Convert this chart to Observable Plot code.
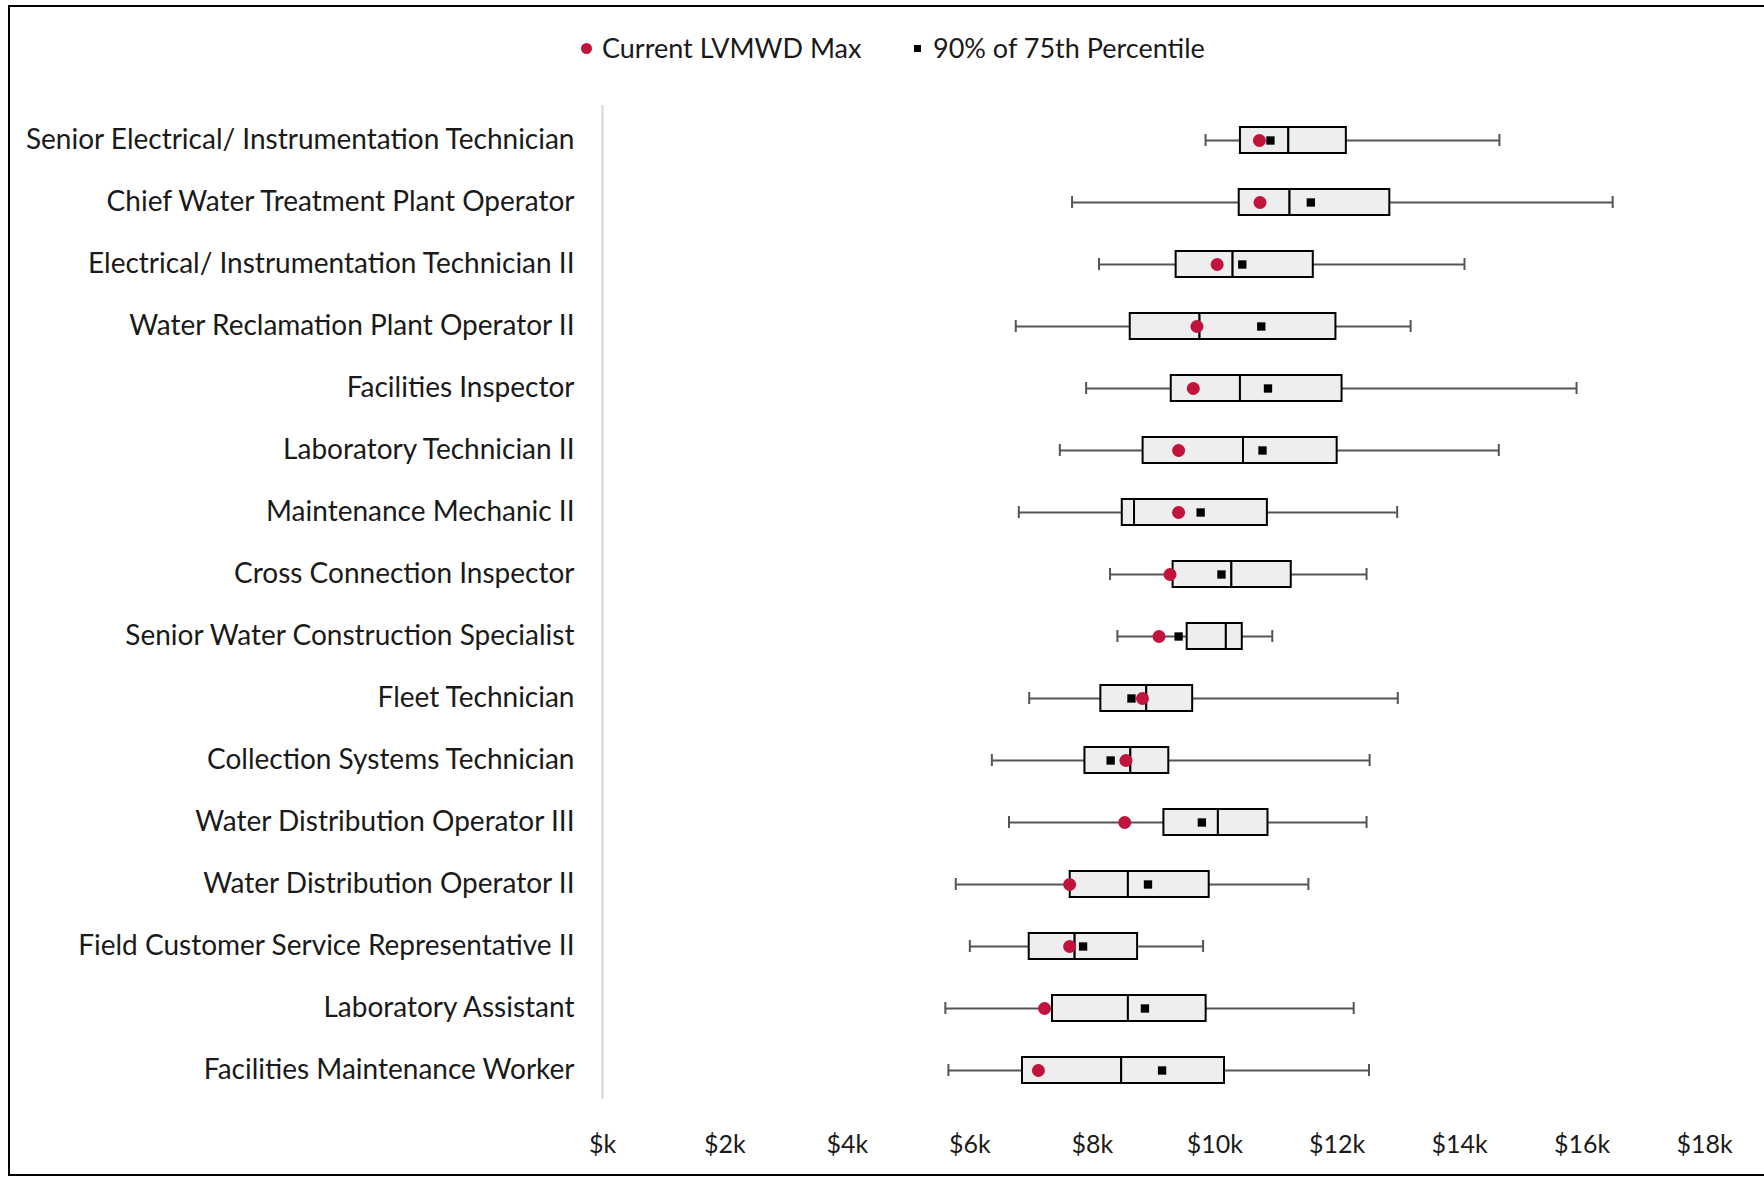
<!DOCTYPE html>
<html>
<head>
<meta charset="utf-8">
<script src="https://cdn.jsdelivr.net/npm/d3@7"></script>
<script src="https://cdn.jsdelivr.net/npm/@observablehq/plot@0.6"></script>
<style>
  html, body { margin: 0; padding: 0; background: #fff; }
  body { width: 1764px; height: 1180px; position: relative; overflow: hidden; font-family: Lato, "Open Sans", sans-serif; }
  #frame { position: absolute; left: 8px; top: 5px; width: 1770px; height: 1171px; border-left: 2px solid #000; border-top: 2px solid #000; border-bottom: 2px solid #000; box-sizing: border-box; }
  #legend { position: absolute; top: 0; left: 0; width: 1764px; height: 90px; }
  .li { position: absolute; top: 32px; font-size: 27px; color: #1a1a1a; line-height: 32px; white-space: nowrap; }
  .dotc { position: absolute; width: 11px; height: 11px; border-radius: 50%; background: #c0143c; }
  .sq { position: absolute; width: 7px; height: 7px; background: #000; }
  #chart { position: absolute; top: 90px; left: 0; }
</style>
</head>
<body>
<div id="frame"></div>
<div id="legend">
  <div class="dotc" style="left:581px; top:43px;"></div>
  <div class="li" style="left:602px;">Current LVMWD Max</div>
  <div class="sq" style="left:914px; top:45px;"></div>
  <div class="li" style="left:933px;">90% of 75th Percentile</div>
</div>
<div id="chart"></div>
<script>
const positions = [
  "Senior Electrical/ Instrumentation Technician",
  "Chief Water Treatment Plant Operator",
  "Electrical/ Instrumentation Technician II",
  "Water Reclamation Plant Operator II",
  "Facilities Inspector",
  "Laboratory Technician II",
  "Maintenance Mechanic II",
  "Cross Connection Inspector",
  "Senior Water Construction Specialist",
  "Fleet Technician",
  "Collection Systems Technician",
  "Water Distribution Operator III",
  "Water Distribution Operator II",
  "Field Customer Service Representative II",
  "Laboratory Assistant",
  "Facilities Maintenance Worker"
];
const minValues    = [9850, 7670, 8110, 6750, 7900, 7470, 6800, 8290, 8410, 6970, 6360, 6640, 5770, 6000, 5600, 5650];
const q1Values     = [10420, 10400, 9370, 8620, 9290, 8830, 8490, 9320, 9550, 8140, 7880, 9170, 7640, 6970, 7350, 6860];
const medianValues = [11210, 11230, 10300, 9760, 10420, 10470, 8690, 10280, 10190, 8890, 8630, 10060, 8590, 7720, 8590, 8480];
const q3Values     = [12150, 12860, 11610, 11980, 12080, 12000, 10860, 11250, 10450, 9640, 9250, 10870, 9910, 8740, 9860, 10160];
const maxValues    = [14650, 16500, 14080, 13200, 15910, 14640, 12980, 12480, 10940, 12990, 12530, 12480, 11530, 9810, 12270, 12520];
const lvmwdMax     = [10730, 10740, 10040, 9710, 9650, 9410, 9410, 9270, 9090, 8820, 8550, 8530, 7630, 7630, 7220, 7120];
const pct90of75    = [10910, 11570, 10450, 10760, 10870, 10780, 9770, 10110, 9410, 8640, 8300, 9790, 8910, 7850, 8860, 9140];
const xTicks = [0, 2000, 4000, 6000, 8000, 10000, 12000, 14000, 16000, 18000];
const xTickLabels = ["$k", "$2k", "$4k", "$6k", "$8k", "$10k", "$12k", "$14k", "$16k", "$18k"];

const rows = positions.map((name, i) => ({
  name, min: minValues[i], q1: q1Values[i], median: medianValues[i], q3: q3Values[i],
  max: maxValues[i], lvmwd: lvmwdMax[i], pct: pct90of75[i]
}));

const chart = Plot.plot({
  width: 1764,
  height: 1090,
  marginLeft: 602,
  marginRight: 60,
  marginTop: 15,
  marginBottom: 75,
  style: { fontFamily: "Lato, 'Open Sans', sans-serif", fontSize: "28px", color: "#1a1a1a", background: "transparent" },
  x: { domain: [0, 18000], ticks: xTicks, tickFormat: (d) => xTickLabels[xTicks.indexOf(d)], label: null },
  y: { domain: positions, padding: 0, label: null },
  marks: [
    Plot.ruleX([0], { stroke: "#d6d6d6", strokeWidth: 2, insetBottom: 6 }),
    Plot.ruleY(rows, { y: "name", x1: "min", x2: "q1", stroke: "#555", strokeWidth: 2 }),
    Plot.ruleY(rows, { y: "name", x1: "q3", x2: "max", stroke: "#555", strokeWidth: 2 }),
    Plot.tickX(rows, { x: "min", y: "name", stroke: "#555", strokeWidth: 2, insetTop: 25, insetBottom: 25 }),
    Plot.tickX(rows, { x: "max", y: "name", stroke: "#555", strokeWidth: 2, insetTop: 25, insetBottom: 25 }),
    Plot.barX(rows, { y: "name", x1: "q1", x2: "median", fill: "#eeeeee", stroke: "#000", strokeWidth: 2, insetTop: 18, insetBottom: 18 }),
    Plot.barX(rows, { y: "name", x1: "median", x2: "q3", fill: "#eeeeee", stroke: "#000", strokeWidth: 2, insetTop: 18, insetBottom: 18 }),
    Plot.dot(rows, { x: "lvmwd", y: "name", r: 6.5, fill: "#c0143c", stroke: "none" }),
    Plot.dot(rows, { x: "pct", y: "name", r: 4.7, symbol: "square", fill: "#000", stroke: "none" }),
    Plot.axisY({ tickSize: 0, tickPadding: 28, fontSize: 28, fill: "#1a1a1a" }),
    Plot.axisX({ ticks: xTicks, tickFormat: (d) => xTickLabels[xTicks.indexOf(d)], tickSize: 0, tickPadding: 30, fontSize: 25, fill: "#1a1a1a" })
  ]
});
document.getElementById("chart").appendChild(chart);
</script>
</body>
</html>
